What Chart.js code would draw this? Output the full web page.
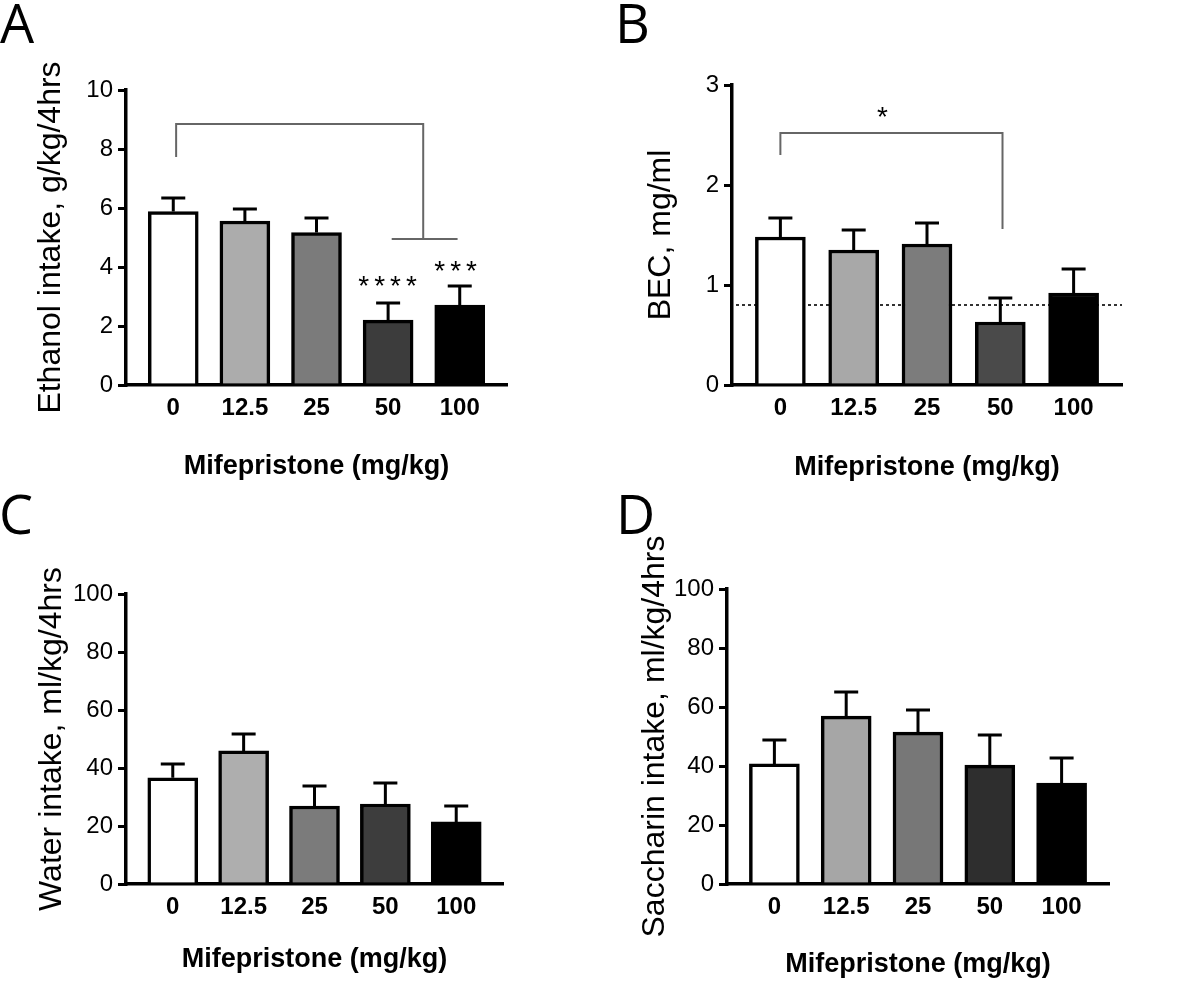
<!DOCTYPE html>
<html>
<head>
<meta charset="utf-8">
<title>Mifepristone intake panels</title>
<script src="https://cdn.jsdelivr.net/npm/chart.js@4.4.1/dist/chart.umd.min.js"></script>
<style>
  body { margin: 0; background: #fff; }
  #wrap { position: relative; width: 1200px; height: 983px; overflow: hidden; }
  #wrap canvas { position: absolute; }
  .tag { position: absolute; font-family: "Open Sans", sans-serif; font-size: 54px; line-height: 1; color: #000; }
</style>
</head>
<body>
<div id="wrap">
  <canvas id="chartA" width="600" height="490" style="left:0;top:0"></canvas>
  <canvas id="chartB" width="600" height="490" style="left:600px;top:0"></canvas>
  <canvas id="chartC" width="600" height="493" style="left:0;top:490px"></canvas>
  <canvas id="chartD" width="600" height="493" style="left:600px;top:490px"></canvas>
  <div class="tag" style="left:0px;top:-5px">A</div>
  <div class="tag" style="left:615px;top:-5px">B</div>
  <div class="tag" style="left:-1px;top:486px">C</div>
  <div class="tag" style="left:616px;top:486px">D</div>
</div>
<script>
// ---- data ----
const doses = ['0', '12.5', '25', '50', '100'];

const ethanolMean = [5.88, 5.56, 5.17, 2.20, 2.71];
const ethanolSem  = [0.46, 0.41, 0.49, 0.58, 0.65];
const ethanolTicks = [0, 10, 2];           // min, max, step

const becMean = [1.48, 1.35, 1.41, 0.63, 0.92];
const becSem  = [0.19, 0.20, 0.21, 0.24, 0.24];
const becTicks = [0, 3, 1];
const becThreshold = 0.8;                  // dotted line

const waterMean = [36.6, 45.9, 26.9, 27.6, 21.4];
const waterSem  = [4.8, 5.8, 6.9, 7.2, 5.5];

const saccharinMean = [40.7, 56.9, 51.5, 40.3, 34.2];
const saccharinSem  = [8.1, 8.2, 7.5, 10.2, 8.5];
const intakeTicks = [0, 100, 20];

// greys used for the five doses
const greysA = ['#ffffff', '#acacac', '#7b7b7b', '#3c3c3c', '#000000'];
const greysB = ['#ffffff', '#a8a8a8', '#7c7c7c', '#4a4a4a', '#000000'];
const greysC = ['#ffffff', '#aeaeae', '#7b7b7b', '#3d3d3d', '#000000'];
const greysD = ['#ffffff', '#a6a6a6', '#777777', '#2e2e2e', '#000000'];

const FONT = '"Liberation Sans", Arial, Helvetica, sans-serif';
Chart.defaults.color = '#000';
Chart.defaults.font.family = FONT;

// error bars, comparison brackets, stars and the dotted BEC line
const extrasPlugin = {
  id: 'extras',
  beforeDatasetsDraw(chart, args, opts) {
    if (opts.refLine == null) return;
    const { ctx, chartArea, scales: { y } } = chart;
    const py = y.getPixelForValue(opts.refLine);
    ctx.save();
    ctx.setLineDash([3, 3]);
    ctx.lineWidth = 2;
    ctx.strokeStyle = '#333';
    ctx.beginPath();
    ctx.moveTo(chartArea.left + 4, py);
    ctx.lineTo(chartArea.right, py);
    ctx.stroke();
    ctx.restore();
  },
  afterDatasetsDraw(chart, args, opts) {
    const { ctx, scales: { x, y } } = chart;
    const sem = opts.sem || [];
    ctx.save();
    ctx.strokeStyle = '#000';
    ctx.lineWidth = 3;
    chart.data.datasets[0].data.forEach((pt, i) => {
      const px = x.getPixelForValue(pt.x);
      const top = y.getPixelForValue(pt.y);
      const end = y.getPixelForValue(pt.y + sem[i]);
      ctx.beginPath();
      ctx.moveTo(px, top);
      ctx.lineTo(px, end);
      ctx.moveTo(px - 12, end);
      ctx.lineTo(px + 12, end);
      ctx.stroke();
    });

    ctx.strokeStyle = '#666';
    ctx.lineWidth = 2;
    (opts.brackets || []).forEach(path => {
      ctx.beginPath();
      path.forEach((p, k) => {
        const px = x.getPixelForValue(p[0]);
        const py = y.getPixelForValue(p[1]);
        if (k === 0) ctx.moveTo(px, py); else ctx.lineTo(px, py);
      });
      ctx.stroke();
    });

    ctx.fillStyle = '#000';
    ctx.textAlign = 'center';
    ctx.textBaseline = 'middle';
    ctx.font = '28px ' + FONT;
    ctx.letterSpacing = '5px';
    (opts.stars || []).forEach(s => {
      ctx.fillText(s.text, x.getPixelForValue(s.x) + 2, y.getPixelForValue(s.y));
    });
    ctx.restore();
  }
};

function makePanel(id, p) {
  return new Chart(document.getElementById(id), {
    type: 'bar',
    data: {
      datasets: [{
        data: p.mean.map((v, i) => ({ x: i, y: v })),
        backgroundColor: p.colors,
        borderColor: '#000',
        borderWidth: 3.5,
        borderSkipped: 'bottom',
        barThickness: 50
      }]
    },
    plugins: [extrasPlugin],
    options: {
      responsive: false,
      animation: false,
      events: [],
      layout: { padding: p.pad },
      plugins: {
        legend: { display: false },
        tooltip: { enabled: false },
        extras: { sem: p.sem, refLine: p.refLine, brackets: p.brackets, stars: p.stars }
      },
      scales: {
        x: {
          type: 'linear',
          offset: false,
          min: -0.66,
          max: 4.66,
          grid: { display: false, drawTicks: false },
          border: { display: true, color: '#000', width: 3.5 },
          afterBuildTicks: s => { s.ticks = doses.map((d, i) => ({ value: i })); },
          ticks: {
            callback: v => doses[v],
            font: { size: 24, weight: 'bold' },
            padding: 9,
            maxRotation: 0,
            autoSkip: false
          },
          title: {
            display: true,
            text: 'Mifepristone (mg/kg)',
            font: { size: 27, weight: 'bold', lineHeight: 1 },
            padding: { top: 0, bottom: p.xTitlePad }
          },
          afterFit: s => { s.height = p.xHeight; }
        },
        y: {
          min: p.ticks[0],
          max: p.ticks[1],
          ticks: { stepSize: p.ticks[2], font: { size: 24 }, padding: 5 },
          grid: { drawOnChartArea: false, drawTicks: true, tickLength: 8, color: '#000', lineWidth: 3 },
          border: { display: true, color: '#000', width: 3.5 },
          title: {
            display: true,
            text: p.yTitle,
            font: { size: 32, lineHeight: 1 },
            padding: { top: p.yTitlePad, bottom: 0 }
          },
          afterFit: s => { s.width = p.yWidth; }
        }
      }
    }
  });
}

makePanel('chartA', {
  mean: ethanolMean, sem: ethanolSem, colors: greysA, ticks: ethanolTicks,
  yTitle: 'Ethanol intake, g/kg/4hrs',
  pad: { top: 90, right: 93, left: 0, bottom: 0 }, yWidth: 126, xHeight: 105,
  yTitlePad: 35, xTitlePad: 9.5,
  brackets: [
    [[0.04, 7.73], [0.04, 8.85], [3.49, 8.85], [3.49, 4.95]],
    [[3.05, 4.95], [3.97, 4.95]]
  ],
  stars: [{ x: 3, y: 3.32, text: '****' }, { x: 3.95, y: 3.83, text: '***' }]
});

makePanel('chartB', {
  mean: becMean, sem: becSem, colors: greysB, ticks: becTicks,
  yTitle: 'BEC, mg/ml', refLine: becThreshold,
  pad: { top: 85, right: 78, left: 0, bottom: 0 }, yWidth: 132, xHeight: 105,
  yTitlePad: 45, xTitlePad: 8.5,
  brackets: [[[0, 2.3], [0, 2.52], [3.03, 2.52], [3.03, 1.56]]],
  stars: [{ x: 1.4, y: 2.67, text: '*' }]
});

makePanel('chartC', {
  mean: waterMean, sem: waterSem, colors: greysC, ticks: intakeTicks,
  yTitle: 'Water intake, ml/kg/4hrs',
  pad: { top: 104, right: 97, left: 0, bottom: 0 }, yWidth: 126, xHeight: 99,
  yTitlePad: 36, xTitlePad: 9.5
});

makePanel('chartD', {
  mean: saccharinMean, sem: saccharinSem, colors: greysD, ticks: intakeTicks,
  yTitle: 'Saccharin intake, ml/kg/4hrs',
  pad: { top: 99, right: 91, left: 0, bottom: 0 }, yWidth: 127, xHeight: 99,
  yTitlePad: 39, xTitlePad: 4.5
});
</script>
</body>
</html>
